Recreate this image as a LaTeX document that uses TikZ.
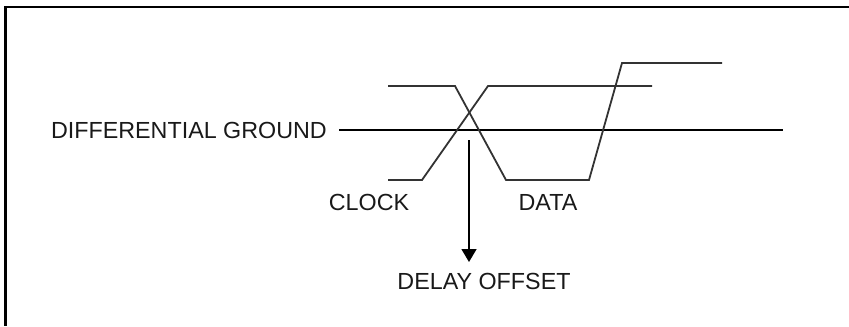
\documentclass[tikz,border=0pt]{standalone}
\usepackage{fontspec}
\setmainfont{Liberation Sans}
\usetikzlibrary{arrows.meta}
\begin{document}
\begin{tikzpicture}[x=1bp,y=-1bp,
  lbl/.style={inner sep=0pt,font=\fontsize{23.3bp}{27bp}\selectfont,text=black!90},
  sig/.style={line width=1.8bp,draw=black!80,line join=miter},
  gnd/.style={line width=1.8bp,draw=black},
  frm/.style={line width=2.6bp,draw=black}]
\useasboundingbox (0,0) rectangle (849,326);
% frame (top and left edges only)
\coordinate (fTR) at (849,6.8);
\coordinate (fTL) at (5.3,6.8);
\coordinate (fBL) at (5.3,326);
\draw[frm] (fTR) -- (fTL) -- (fBL);
% labels
\node[lbl,anchor=east] (ground) at (327,130) {DIFFERENTIAL GROUND};
\node[lbl] (clock) at (369,202) {CLOCK};
\node[lbl] (data) at (548,202) {DATA};
\node[lbl] (delay) at (484,281) {DELAY OFFSET};
% ground line
\coordinate (gA) at (339,130);
\coordinate (gB) at (783,130);
\draw[gnd] (gA) -- (gB);
% clock waveform
\coordinate (c1) at (388,180);
\coordinate (c2) at (422,180);
\coordinate (c3) at (488,86);
\coordinate (c4) at (652,86);
\draw[sig] (c1) -- (c2) -- (c3) -- (c4);
% data waveform
\coordinate (d1) at (388,86);
\coordinate (d2) at (455,86);
\coordinate (d3) at (506,180);
\coordinate (d4) at (589,180);
\coordinate (d5) at (622,63);
\coordinate (d6) at (722,63);
\draw[sig] (d1) -- (d2) -- (d3) -- (d4) -- (d5) -- (d6);
% delay offset arrow
\coordinate (aS) at (469,140);
\coordinate (aE) at (469,262);
\draw[line width=1.5bp,-{Triangle[width=15bp,length=13bp]}] (aS) -- (aE);
\end{tikzpicture}
\end{document}
